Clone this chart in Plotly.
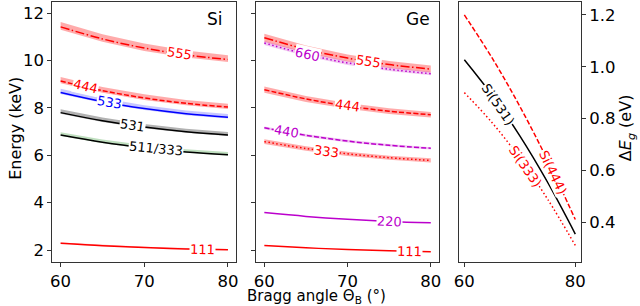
import numpy as np
import plotly.graph_objects as go

# ---------------- data ----------------
theta = [60, 65, 70, 75, 80]

# Si reflections (keV)
si_111 = [2.283, 2.181, 2.104, 2.047, 2.007]
si_511 = [6.848, 6.544, 6.312, 6.140, 6.022]
si_531 = [7.797, 7.451, 7.187, 6.991, 6.857]
si_533 = [8.643, 8.259, 7.966, 7.749, 7.600]
si_444 = [9.131, 8.726, 8.416, 8.187, 8.030]
si_555 = [11.414, 10.907, 10.520, 10.234, 10.037]

si_111_hi = [2.32, 2.22, 2.14, 2.08, 2.04]
si_111_lo = [2.27, 2.17, 2.09, 2.04, 2.00]
si_511_hi = [6.97, 6.66, 6.43, 6.25, 6.13]
si_511_lo = [6.81, 6.50, 6.27, 6.10, 5.98]
si_531_hi = [7.94, 7.59, 7.32, 7.12, 6.98]
si_531_lo = [7.75, 7.40, 7.14, 6.95, 6.81]
si_533_hi = [8.80, 8.41, 8.11, 7.89, 7.74]
si_533_lo = [8.58, 8.20, 7.91, 7.69, 7.55]
si_444_hi = [9.30, 8.88, 8.57, 8.33, 8.17]
si_444_lo = [9.04, 8.64, 8.33, 8.11, 7.95]
si_555_hi = [11.62, 11.10, 10.71, 10.42, 10.22]
si_555_lo = [11.29, 10.79, 10.40, 10.12, 9.93]

# Ge reflections (keV)
ge_111 = [2.191, 2.094, 2.019, 1.965, 1.927]
ge_220 = [3.578, 3.419, 3.298, 3.208, 3.147]
ge_333 = [6.573, 6.282, 6.058, 5.894, 5.781]
ge_440 = [7.157, 6.839, 6.596, 6.417, 6.293]
ge_444 = [8.764, 8.375, 8.077, 7.858, 7.707]
ge_555 = [10.956, 10.469, 10.097, 9.823, 9.634]
ge_660 = [10.735, 10.258, 9.894, 9.625, 9.440]

ge_333_hi = [6.67, 6.38, 6.15, 5.98, 5.87]
ge_333_lo = [6.47, 6.19, 5.97, 5.81, 5.69]
ge_440_hi = [7.21, 6.89, 6.65, 6.47, 6.34]
ge_440_lo = [7.10, 6.78, 6.54, 6.37, 6.24]
ge_444_hi = [8.90, 8.50, 8.20, 7.98, 7.82]
ge_444_lo = [8.63, 8.25, 7.96, 7.74, 7.59]
ge_555_hi = [11.12, 10.63, 10.25, 9.97, 9.78]
ge_555_lo = [10.79, 10.31, 9.95, 9.68, 9.49]
ge_660_hi = [10.82, 10.34, 9.97, 9.70, 9.52]
ge_660_lo = [10.65, 10.18, 9.81, 9.55, 9.37]

# Delta E_g (eV)
dE_444 = [1.200, 1.034, 0.847, 0.639, 0.410]
dE_531 = [1.027, 0.890, 0.733, 0.554, 0.354]
dE_333 = [0.900, 0.784, 0.647, 0.489, 0.310]

# ---------------- style ----------------
W, H = 640, 306
RED = "#ff0000"
BLUE = "#0000ff"
MAG = "#bb00cc"
BLK = "#000000"
F_RED = "rgba(255,0,0,0.33)"
F_BLUE = "rgba(0,0,255,0.22)"
F_GRAY = "rgba(0,0,0,0.30)"
F_GREEN = "rgba(0,128,0,0.25)"
F_MAG = "rgba(191,0,191,0.22)"
DASH = "5px,2.2px"
DASHDOT = "9px,2.5px,1.5px,2.5px"
DOT = "1.5px,2.5px"
FONT = "DejaVu Sans"
TICK_FS = 16.5
LAB_FS = 16
INL_FS = 13

# panel pixel boxes
px_left = (48, 235)
px_mid = (255, 441)
px_right = (461, 585)
px_top, px_bot = 2, 262
XR = [59, 81]
YR = [1.494, 12.464]
YR2 = [0.246, 1.25]

fig = go.Figure()


def band(xax, yax, hi, lo, color):
    fig.add_trace(go.Scatter(x=theta + theta[::-1], y=hi + lo[::-1], fill="toself",
                             fillcolor=color, line=dict(width=0), mode="lines",
                             xaxis=xax, yaxis=yax, hoverinfo="skip", showlegend=False))


def line(xax, yax, y, color, dash="solid"):
    fig.add_trace(go.Scatter(x=theta, y=y, mode="lines", line=dict(color=color, width=1.5, dash=dash, shape="spline"),
                             xaxis=xax, yaxis=yax, showlegend=False))


def label(xax, yax, y, xl, text, color, panel_px, yr, size=INL_FS):
    kx = (panel_px[1] - panel_px[0]) / (XR[1] - XR[0])
    ky = (px_bot - px_top) / (yr[1] - yr[0])
    yl = float(np.interp(xl, theta, y))
    dydx = (np.interp(xl + 0.5, theta, y) - np.interp(xl - 0.5, theta, y)) / 1.0
    ang = float(np.degrees(np.arctan(-dydx * ky / kx)))
    fig.add_annotation(x=xl, y=yl, xref=xax, yref=yax, text=text, showarrow=False,
                       textangle=ang, bgcolor="white", borderpad=0,
                       font=dict(family=FONT, size=size, color=color))


# Si panel
for hi, lo, c in [(si_555_hi, si_555_lo, F_RED), (si_444_hi, si_444_lo, F_RED), (si_533_hi, si_533_lo, F_BLUE),
                  (si_531_hi, si_531_lo, F_GRAY), (si_511_hi, si_511_lo, F_GREEN), (si_111_hi, si_111_lo, F_RED)]:
    band("x", "y", hi, lo, c)
line("x", "y", si_555, RED, DASHDOT)
line("x", "y", si_444, RED, DASH)
line("x", "y", si_533, BLUE)
line("x", "y", si_531, BLK)
line("x", "y", si_511, BLK)
line("x", "y", si_111, RED)

label("x", "y", si_555, 74.2, "555", RED, px_left, YR)
label("x", "y", si_444, 63.0, "444", RED, px_left, YR)
label("x", "y", si_533, 65.9, "533", BLUE, px_left, YR)
label("x", "y", si_531, 68.6, "531", BLK, px_left, YR)
label("x", "y", si_511, 71.4, "511/333", BLK, px_left, YR)
label("x", "y", si_111, 77.0, "111", RED, px_left, YR)

# Ge panel
for hi, lo, c in [(ge_555_hi, ge_555_lo, F_RED), (ge_660_hi, ge_660_lo, F_MAG), (ge_444_hi, ge_444_lo, F_RED),
                  (ge_440_hi, ge_440_lo, F_MAG), (ge_333_hi, ge_333_lo, F_RED)]:
    band("x2", "y2", hi, lo, c)
line("x2", "y2", ge_555, RED, DASHDOT)
line("x2", "y2", ge_660, MAG, DOT)
line("x2", "y2", ge_444, RED, DASH)
line("x2", "y2", ge_440, MAG, DASH)
line("x2", "y2", ge_333, RED, DOT)
line("x2", "y2", ge_220, MAG)
line("x2", "y2", ge_111, RED)

label("x2", "y2", ge_660, 65.2, "660", MAG, px_mid, YR)
label("x2", "y2", ge_555, 72.5, "555", RED, px_mid, YR)
label("x2", "y2", ge_444, 70.0, "444", RED, px_mid, YR)
label("x2", "y2", ge_440, 62.7, "440", MAG, px_mid, YR)
label("x2", "y2", ge_333, 67.5, "333", RED, px_mid, YR)
label("x2", "y2", ge_220, 75.0, "220", MAG, px_mid, YR)
label("x2", "y2", ge_111, 77.4, "111", RED, px_mid, YR)

# Delta E panel
line("x3", "y3", dE_444, RED, DASH)
line("x3", "y3", dE_531, BLK)
line("x3", "y3", dE_333, RED, DOT)
label("x3", "y3", dE_531, 66.1, "Si(531)", BLK, px_right, YR2)
label("x3", "y3", dE_333, 71.0, "Si(333)", RED, px_right, YR2)
label("x3", "y3", dE_444, 76.0, "Si(444)", RED, px_right, YR2)


def dom(p):
    return [p[0] / W, p[1] / W]


ydom = [(H - px_bot) / H, (H - px_top) / H]
SPINE = "#333333"
common_ax = dict(showline=True, mirror=True, linecolor=SPINE, linewidth=1, showgrid=False, zeroline=False,
                 ticks="outside", ticklen=4, tickwidth=1, tickcolor=SPINE,
                 tickfont=dict(family=FONT, size=TICK_FS, color="black"))

fig.update_layout(
    width=W, height=H, margin=dict(l=0, r=0, t=0, b=0),
    paper_bgcolor="white", plot_bgcolor="white", showlegend=False,
    xaxis=dict(domain=dom(px_left), range=XR, tickvals=[60, 70, 80], anchor="y", **common_ax),
    yaxis=dict(domain=ydom, range=YR, tickvals=[2, 4, 6, 8, 10, 12], anchor="x", **common_ax),
    xaxis2=dict(domain=dom(px_mid), range=XR, tickvals=[60, 70, 80], anchor="y2", **common_ax),
    yaxis2=dict(domain=ydom, range=YR, tickvals=[2, 4, 6, 8, 10, 12], showticklabels=False, anchor="x2",
                **common_ax),
    xaxis3=dict(domain=dom(px_right), range=XR, tickvals=[60, 80], anchor="y3", **common_ax),
    yaxis3=dict(domain=ydom, range=YR2, tickvals=[0.4, 0.6, 0.8, 1.0, 1.2], tickformat=".1f", side="right",
                anchor="x3", **common_ax),
)

# panel titles and axis labels
fig.add_annotation(x=222 / W, y=1 - 19 / H, xref="paper", yref="paper", text="Si", showarrow=False,
                   xanchor="right", yanchor="middle", borderpad=0, font=dict(family=FONT, size=17, color="black"))
fig.add_annotation(x=433 / W, y=1 - 19 / H, xref="paper", yref="paper", text="Ge", showarrow=False,
                   xanchor="right", yanchor="middle", borderpad=0, font=dict(family=FONT, size=17, color="black"))
fig.add_annotation(x=10 / W, y=1 - 128 / H, xref="paper", yref="paper", text="Energy (keV)", showarrow=False,
                   textangle=-90, xanchor="center", yanchor="middle", borderpad=0,
                   font=dict(family=FONT, size=LAB_FS, color="black"))
fig.add_annotation(x=316 / W, y=1 - 296 / H, xref="paper", yref="paper", text="Bragg angle Θ<sub>B</sub> (°)",
                   showarrow=False, xanchor="center", yanchor="middle", borderpad=0,
                   font=dict(family=FONT, size=15, color="black"))
fig.add_annotation(x=631 / W, y=1 - 128 / H, xref="paper", yref="paper",
                   text="Δ<i>E</i><sub><i>g</i></sub> (eV)", showarrow=False, textangle=-90,
                   xanchor="center", yanchor="middle", borderpad=0,
                   font=dict(family=FONT, size=LAB_FS, color="black"))

fig.write_html("out.html", config={"displayModeBar": False},
               post_script="document.body.style.margin='0';document.body.style.padding='0';")
